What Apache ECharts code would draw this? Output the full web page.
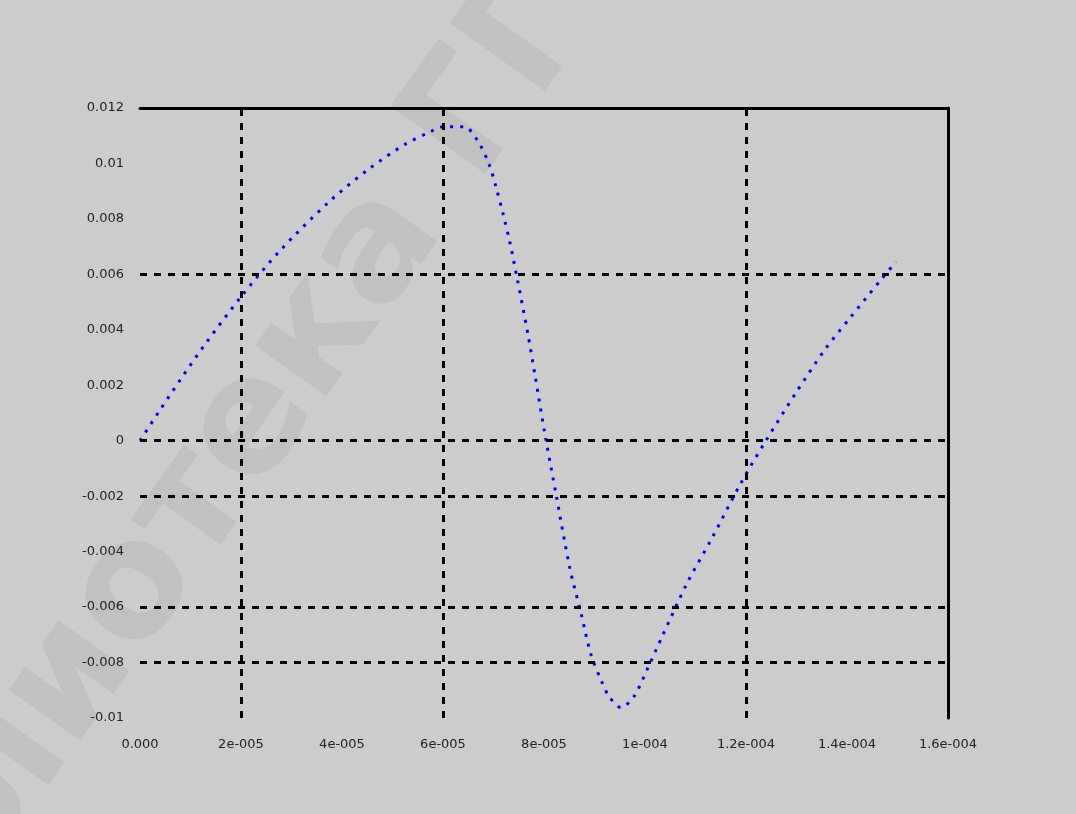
<!DOCTYPE html>
<html>
<head>
<meta charset="utf-8">
<script src="https://cdn.jsdelivr.net/npm/echarts@6/dist/echarts.min.js"></script>
<style>
  html, body { margin: 0; padding: 0; background: #cccccc; }
  #main { width: 1076px; height: 814px; }
</style>
</head>
<body>
<div id="main"></div>
<script>
// time values (s)
const timeVals = [0, 0.40e-5, 0.81e-5, 1.31e-5, 2.0e-5, 2.77e-5, 3.74e-5, 4.51e-5, 5.23e-5,
  5.78e-5, 6.0e-5, 6.42e-5, 6.69e-5, 6.91e-5, 7.05e-5, 7.19e-5, 7.33e-5, 7.47e-5, 7.68e-5,
  7.82e-5, 8.02e-5, 8.24e-5, 8.51e-5, 8.73e-5, 8.93e-5, 9.15e-5, 9.29e-5, 9.52e-5, 9.78e-5,
  10.06e-5, 10.34e-5, 10.83e-5, 11.33e-5, 11.88e-5, 12.38e-5, 12.99e-5, 13.56e-5, 14.06e-5,
  14.67e-5, 14.97e-5];
// signal values
const signalVals = [0, 0.00112, 0.00223, 0.00353, 0.00519, 0.00685, 0.00861, 0.00977, 0.01067,
  0.01117, 0.01132, 0.01132, 0.01081, 0.00998, 0.00915, 0.00818, 0.0071, 0.00584, 0.00386,
  0.00238, 0.00022, -0.00195, -0.00458, -0.0062, -0.00771, -0.00872, -0.00923, -0.00962, -0.00923,
  -0.00818, -0.00706, -0.00515, -0.0035, -0.00159, -0.00004, 0.00173, 0.00328, 0.00443,
  0.0058, 0.00645];

const xTickLabels = ['0.000', '2e-005', '4e-005', '6e-005', '8e-005', '1e-004', '1.2e-004', '1.4e-004', '1.6e-004'];
const yTickLabels = ['-0.01', '-0.008', '-0.006', '-0.004', '-0.002', '0', '0.002', '0.004', '0.006', '0.008', '0.01', '0.012'];

// only some grid lines are drawn in the original
const xGridVals = [2e-5, 6e-5, 1.2e-4];
const yGridVals = [0.006, 0, -0.002, -0.006, -0.008];

const chartDom = document.getElementById('main');
const myChart = echarts.init(chartDom, null, { renderer: 'canvas' });

const points = timeVals.map((t, i) => [t, signalVals[i]]);

const labelStyle = { color: '#222', fontSize: 13, fontFamily: 'DejaVu Sans' };

const option = {
  backgroundColor: '#cccccc',
  animation: false,
  graphic: [{
    type: 'text',
    left: -290,
    top: -240,
    rotation: 0.95,
    silent: true,
    z: -10,
    style: {
      text: 'библиотека ГГТУ',
      fill: 'rgba(150,150,150,0.2)',
      font: 'bold 160px "DejaVu Sans"'
    }
  }],
  grid: { left: 140, right: 128, top: 108, bottom: 96 },
  xAxis: [{
    type: 'value',
    min: 0,
    max: 1.6e-4,
    interval: 2e-5,
    axisLine: { show: false },
    axisTick: { show: false },
    splitLine: { show: false },
    axisLabel: {
      ...labelStyle,
      margin: 20,
      formatter: (v) => xTickLabels[Math.round(v / 2e-5)]
    }
  }, {
    type: 'value',
    position: 'top',
    min: 0,
    max: 1.6e-4,
    axisLine: { show: true, onZero: false, lineStyle: { color: '#000', width: 3 } },
    axisTick: { show: false },
    axisLabel: { show: false },
    splitLine: { show: false }
  }],
  yAxis: [{
    type: 'value',
    min: -0.01,
    max: 0.012,
    interval: 0.002,
    axisLine: { show: false },
    axisTick: { show: false },
    splitLine: { show: false },
    axisLabel: {
      ...labelStyle,
      margin: 16,
      formatter: (v) => yTickLabels[Math.round((v + 0.01) / 0.002)]
    }
  }, {
    type: 'value',
    position: 'right',
    min: -0.01,
    max: 0.012,
    axisLine: { show: true, onZero: false, lineStyle: { color: '#000', width: 3 } },
    axisTick: { show: false },
    axisLabel: { show: false },
    splitLine: { show: false }
  }],
  series: [{
    type: 'line',
    data: points,
    showSymbol: false,
    smooth: 0.3,
    lineStyle: { color: '#0000ff', width: 3, type: [3, 7] },
    markLine: {
      silent: true,
      symbol: 'none',
      precision: 10,
      label: { show: false },
      lineStyle: { color: '#000', width: 3, type: [7, 7] },
      data: [
        ...xGridVals.map(v => ({ xAxis: v })),
        ...yGridVals.map(v => ({ yAxis: v }))
      ]
    }
  }]
};

option && myChart.setOption(option);
</script>
</body>
</html>
